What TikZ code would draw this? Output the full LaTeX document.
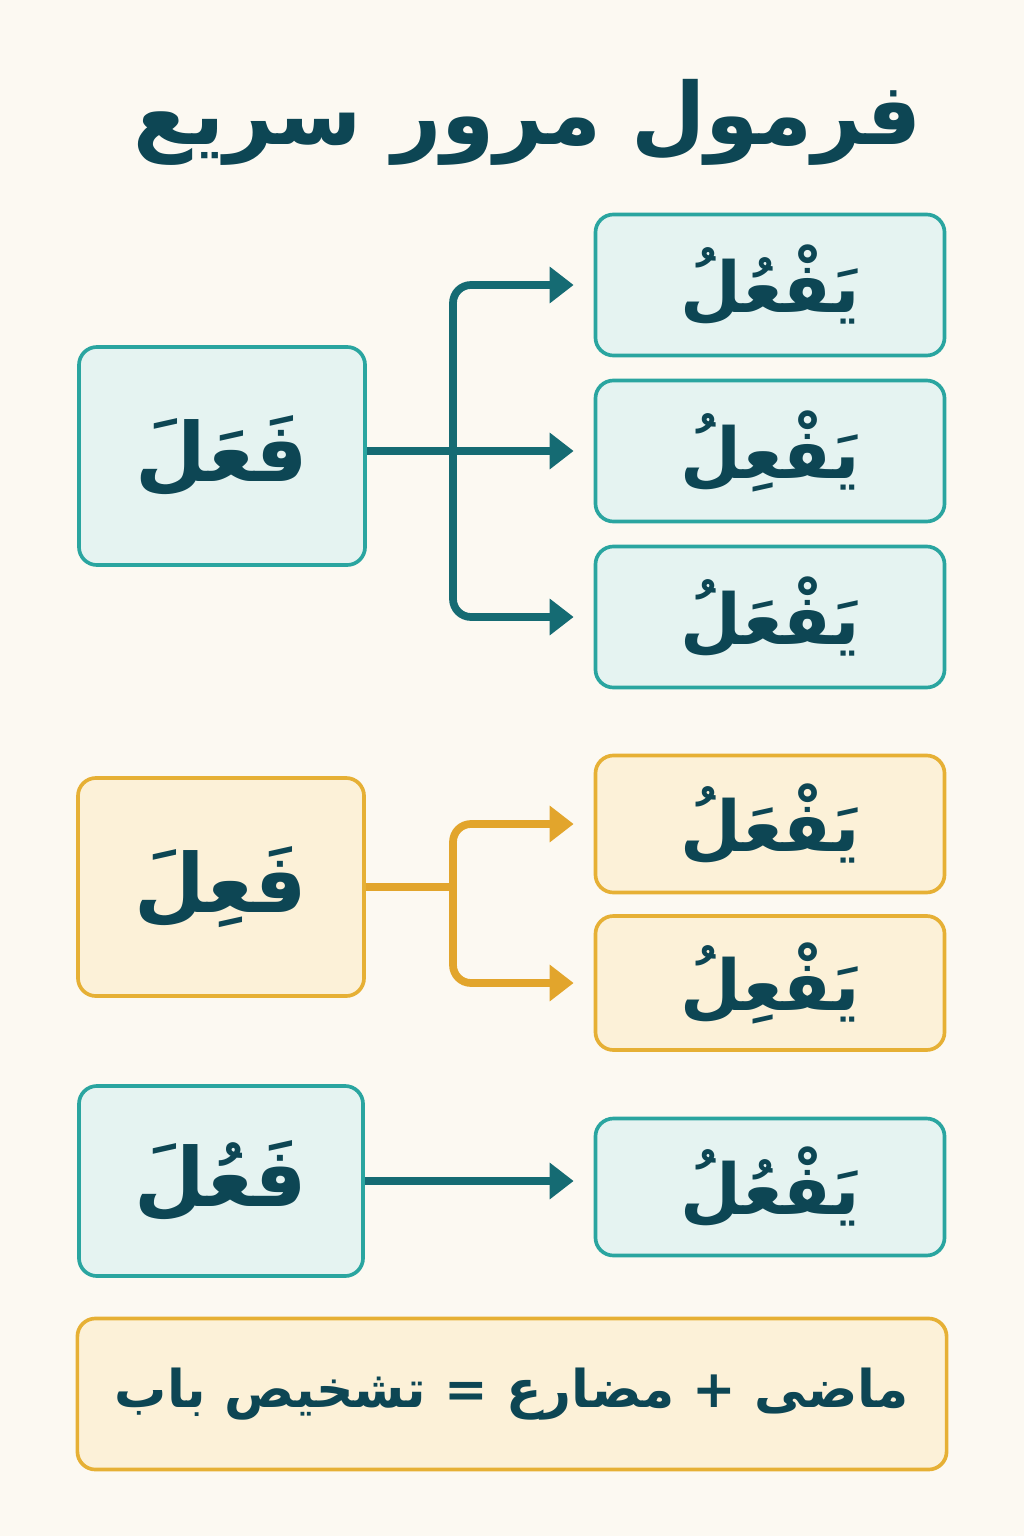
\documentclass[tikz,border=0pt]{standalone}
\usepackage{fontspec}
\TeXXeTstate=1
\newfontfamily\arabicfont[Script=Arabic]{DejaVu Sans}
\usetikzlibrary{
    arrows.meta,
    calc
}
\definecolor{paper}{HTML}{FCF9F2}
\definecolor{ink}{HTML}{0D4654}
\definecolor{tealline}{HTML}{2AA5A0}
\definecolor{tealfill}{HTML}{E5F3F1}
\definecolor{tealarrow}{HTML}{156B73}
\definecolor{amberline}{HTML}{E6B035}
\definecolor{amberfill}{HTML}{FCF1D8}
\definecolor{amberarrow}{HTML}{E2A52C}
\tikzset {
    box/.style = {
        rounded corners = 0.45cm,
        line width = 2.6pt,
        inner sep = 0pt,
        text = ink,
        font = \arabicfont\bfseries\fontsize{58}{64}\selectfont
    },
    teal box/.style = {box, draw = tealline, fill = tealfill},
    amber box/.style = {box, draw = amberline, fill = amberfill},
    past/.style = {minimum width = 7.15cm, minimum height = 5.45cm},
    pres/.style = {
        minimum width = 8.725cm,
        minimum height = 3.525cm,
        font = \arabicfont\bfseries\fontsize{50}{56}\selectfont
    },
    %
    stem/.style = {line width = 5.5pt, rounded corners = 0.45cm},
    branch/.style = {
        stem,
        shorten > = 0.5cm,
        arrows = {-Triangle[length = 17pt, width = 25pt]}
    },
    title/.style = {text = ink, font = \arabicfont\bfseries\fontsize{61}{70}\selectfont}
}
\begin{document}
\begin{tikzpicture}[x = 0.025cm, y = -0.025cm]
    \useasboundingbox (0, 0) rectangle (1024, 1536);
    \fill [paper] (0, 0) rectangle (1024, 1536);
    \node (head) [title] at (528, 122) {\beginR فرمول مرور سریع\endR};
    % first group
    \node (fa) [teal box, past] at (222, 456) {\beginR فَعَلَ\endR};
    \node (fa1) [teal box, pres] at (770, 285) {\beginR يَفْعُلُ\endR};
    \node (fa2) [teal box, pres] at (770, 451) {\beginR يَفْعِلُ\endR};
    \node (fa3) [teal box, pres] at (770, 617) {\beginR يَفْعَلُ\endR};
    \coordinate (ta) at (453, 451);
    \draw [branch, draw = tealarrow] (fa2.west -| fa.east) -- (fa2.west);
    \draw [branch, draw = tealarrow] (ta) |- (fa1.west);
    \draw [branch, draw = tealarrow] (ta) |- (fa3.west);
    % second group
    \node (fi) [amber box, past] at (221, 887) {\beginR فَعِلَ\endR};
    \node (fi1) [amber box, pres, minimum height = 3.425cm] at (770, 824) {\beginR يَفْعَلُ\endR};
    \node (fi2) [amber box, pres, minimum height = 3.35cm] at (770, 983) {\beginR يَفْعِلُ\endR};
    \coordinate (ti) at (fi.east -| ta);
    \draw [stem, draw = amberarrow] (fi.east) -- (ti);
    \draw [branch, draw = amberarrow] (ti) |- (fi1.west);
    \draw [branch, draw = amberarrow] (ti) |- (fi2.west);
    % third group
    \node (fu) [teal box, past, minimum width = 7.1cm, minimum height = 4.75cm] at (221, 1181) {\beginR فَعُلَ\endR};
    \node (fu1) [teal box, pres, minimum height = 3.425cm] at (770, 1187) {\beginR يَفْعُلُ\endR};
    \draw [branch, draw = tealarrow] (fu.east) -- (fu.east -| fu1.west);
    % rule
    \node (rule) [amber box, minimum width = 21.725cm, minimum height = 3.775cm,
        font = \arabicfont\bfseries\fontsize{37}{44}\selectfont] at (512, 1394)
        {\beginR ماضی + مضارع = تشخیص باب\endR};
\end{tikzpicture}
\end{document}
